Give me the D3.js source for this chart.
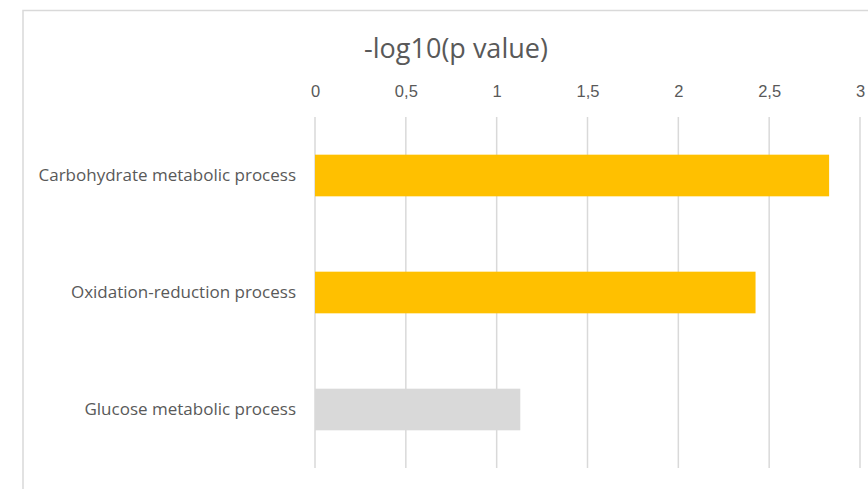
<!DOCTYPE html>
<html>
<head>
<meta charset="utf-8">
<script src="https://cdn.jsdelivr.net/npm/d3@7"></script>
<style>
  body { margin: 0; background: #fff; }
  svg { display: block; font-family: "Open Sans", sans-serif; }
</style>
</head>
<body>
<svg id="chart" width="868" height="489"></svg>
<script>
const categories = ["Carbohydrate metabolic process", "Oxidation-reduction process", "Glucose metabolic process"];
const values = [2.83, 2.425, 1.13];
const barColors = ["#ffc000", "#ffc000", "#d9d9d9"];
const tickValues = [0, 0.5, 1, 1.5, 2, 2.5, 3];
const title = "-log10(p value)";

const svg = d3.select("#chart");
const margin = { top: 117, left: 315, right: 8, bottom: 21 };

// chart border (runs off the right/bottom edge like the source)
svg.append("rect")
    .attr("x", 23).attr("y", 10.5)
    .attr("width", 900).attr("height", 600)
    .attr("fill", "none")
    .attr("stroke", "#d9d9d9")
    .attr("stroke-width", 1.5);

const x = d3.scaleLinear().domain([0, 3]).range([margin.left, 860]);
const y = d3.scaleBand().domain(categories).range([margin.top, 468]).paddingInner(0.644).paddingOuter(0.322);

// gridlines
svg.append("g").selectAll("line")
    .data(tickValues)
    .enter()
    .append("line")
    .attr("x1", d => x(d)).attr("x2", d => x(d))
    .attr("y1", margin.top).attr("y2", 468)
    .attr("stroke", "#d9d9d9")
    .attr("stroke-width", 1.5);

// top axis labels
const axis = d3.axisTop(x).tickValues(tickValues).tickSize(0)
    .tickFormat(d => String(d).replace(".", ","));
const ag = svg.append("g").attr("transform", "translate(0,100)").call(axis);
ag.select(".domain").remove();
ag.selectAll("text")
    .attr("fill", "#595959")
    .style("font-size", "16.5px")
    .attr("dy", 0);

// bars
svg.append("g").selectAll("rect")
    .data(categories)
    .enter()
    .append("rect")
    .attr("x", x(0))
    .attr("y", d => y(d))
    .attr("width", (d, i) => x(values[i]) - x(0))
    .attr("height", y.bandwidth())
    .attr("fill", (d, i) => barColors[i]);

// category labels
svg.append("g").selectAll("text")
    .data(categories)
    .enter()
    .append("text")
    .attr("x", 296)
    .attr("y", d => y(d) + y.bandwidth() / 2)
    .attr("dy", "0.35em")
    .attr("text-anchor", "end")
    .attr("fill", "#595959")
    .style("font-size", "17px")
    .text(d => d);

// title
svg.append("text")
    .attr("x", 456).attr("y", 58)
    .attr("text-anchor", "middle")
    .attr("fill", "#595959")
    .style("font-size", "27px")
    .text(title);
</script>
</body>
</html>
